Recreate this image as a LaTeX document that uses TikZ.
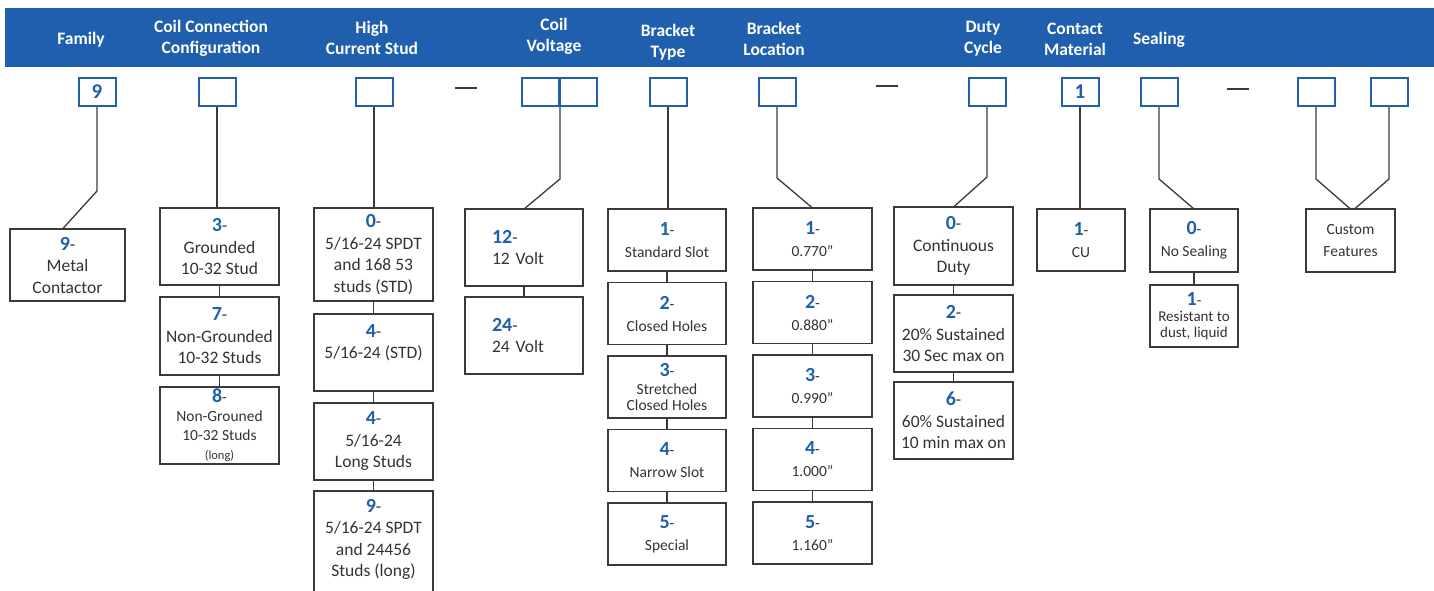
\documentclass[tikz,border=0pt]{standalone}
\usepackage{fontspec}
\setmainfont{Carlito}
\usetikzlibrary{positioning}
\definecolor{hdrblue}{HTML}{1F5FAD}
\definecolor{txtgray}{HTML}{333333}
\definecolor{linegray}{HTML}{3A3A3A}
\newcommand{\optnum}[1]{{\color{hdrblue}\bfseries\fontsize{20}{20}\selectfont#1}-}

\begin{document}
\begin{tikzpicture}[x=1pt, y=-1pt, node distance=11.5pt,
  hdr/.style={text=white, align=center, font=\bfseries\fontsize{17.5}{21}\selectfont},
  code/.style={draw=hdrblue, line width=2pt, minimum width=37pt, minimum height=28pt, inner sep=0pt, text=hdrblue, font=\bfseries\fontsize{21}{21}\selectfont},
  sep/.style={inner sep=0pt, text=linegray},
  opt/.style 2 args={draw=linegray, line width=1.3pt, text=txtgray, align=center, inner sep=0pt, outer sep=0pt, minimum width=#1, minimum height=#2, font=\fontsize{17.5}{21.5}\selectfont},
  sml/.style={font=\fontsize{15.5}{22}\selectfont},
  link/.style={draw=linegray, line width=1.3pt}]
  \useasboundingbox (0,0) rectangle (1434,590);
  \clip (0,0) rectangle (1434,590);
  \fill[hdrblue] (5,8) rectangle (1434,67);

  \node[hdr] (hfam)  at (81,40)   {Family};
  \node[hdr] (hcoil) at (211,38)  {Coil Connection\\Configuration};
  \node[hdr] (hstud) at (372,38)  {High\\Current Stud};
  \node[hdr] (hvolt) at (554,36)  {Coil\\Voltage};
  \node[hdr] (htype) at (668,42)  {Bracket\\Type};
  \node[hdr] (hloc)  at (774,39)  {Bracket\\Location};
  \node[hdr] (hduty) at (983,39)  {Duty\\Cycle};
  \node[hdr] (hcont) at (1075,39) {Contact\\Material};
  \node[hdr] (hseal) at (1159,40) {Sealing};

  \node[code] (c1)  at (97,92)    {9};
  \node[code] (c2)  at (217,92)   {};
  \node[code] (c3)  at (374,92)   {};
  \node[sep]  (d1)  at (466,88)   {\rule{22pt}{2pt}};
  \node[code] (c4a) at (540.5,92) {};
  \node[code] (c4b) at (578,92)   {};
  \node[code] (c5)  at (668,92)   {};
  \node[code] (c6)  at (777,92)   {};
  \node[sep]  (d2)  at (886.5,86) {\rule{22pt}{2pt}};
  \node[code] (c7)  at (987,92)   {};
  \node[code] (c8)  at (1080,92)  {1};
  \node[code] (c9)  at (1159,92)  {};
  \node[sep]  (d3)  at (1237.5,89) {\rule{22pt}{2pt}};
  \node[code] (c10) at (1316,92)  {};
  \node[code] (c11) at (1389,92)  {};

  \node[opt={115pt}{72pt}] (f9) at (67.5,265) {\optnum{9}\\Metal\\Contactor};

  \node[opt={119pt}{77pt}] (g3) at (219.5,246.5) {\optnum{3}\\Grounded\\10-32 Stud};
  \node[opt={119pt}{78pt}, below=12pt of g3] (g7) {\optnum{7}\\Non-Grounded\\10-32 Studs};
  \node[opt={119pt}{77pt}, font=\fontsize{15.5}{19}\selectfont, below=12pt of g7] (g8)
    {\optnum{8}\\Non-Grouned\\10-32 Studs\\{\fontsize{12.5}{14}\selectfont (long)}};

  \node[opt={119pt}{93pt}] (s0) at (373.5,254.5) {\optnum{0}\\5/16-24 SPDT\\and 168 53\\studs (STD)};
  \node[opt={119pt}{77pt}, below=13pt of s0] (s4) {\optnum{4}\\5/16-24 (STD)\\\mbox{}};
  \node[opt={119pt}{77pt}, below=12pt of s4] (s4l) {\optnum{4}\\5/16-24\\Long Studs};
  \node[opt={119pt}{106pt}, text depth=12pt, below=11pt of s4l] (s9) {\optnum{9}\\5/16-24 SPDT\\and 24456\\Studs (long)};

  \node[opt={118pt}{77pt}, text width=64pt, align=left] (v12) at (524,247.5) {\optnum{12}\\12 Volt};
  \node[opt={118pt}{77pt}, text width=64pt, align=left, below=11pt of v12] (v24) {\optnum{24}\\24 Volt};

  \node[opt={118pt}{62pt}, sml] (b1) at (667,240) {\optnum{1}\\Standard Slot};
  \node[opt={118pt}{62pt}, sml, below=of b1] (b2) {\optnum{2}\\Closed Holes};
  \node[opt={118pt}{62pt}, sml, below=of b2] (b3) {\optnum{3}\\[-4pt]Stretched\\[-6pt]Closed Holes};
  \node[opt={118pt}{62pt}, sml, below=of b3] (b4) {\optnum{4}\\Narrow Slot};
  \node[opt={118pt}{62pt}, sml, below=of b4] (b5) {\optnum{5}\\Special};

  \node[opt={119pt}{62pt}, sml] (l1) at (812.5,239) {\optnum{1}\\0.770”};
  \node[opt={119pt}{62pt}, sml, below=of l1] (l2) {\optnum{2}\\0.880”};
  \node[opt={119pt}{62pt}, sml, below=of l2] (l3) {\optnum{3}\\0.990”};
  \node[opt={119pt}{62pt}, sml, below=of l3] (l4) {\optnum{4}\\1.000”};
  \node[opt={119pt}{62pt}, sml, below=of l4] (l5) {\optnum{5}\\1.160”};

  \node[opt={119pt}{78pt}] (u0) at (953.5,246) {\optnum{0}\\Continuous\\Duty};
  \node[opt={119pt}{77pt}, below=10pt of u0] (u2) {\optnum{2}\\20\% Sustained\\30 Sec max on};
  \node[opt={119pt}{77pt}, below=10pt of u2] (u6) {\optnum{6}\\60\% Sustained\\10 min max on};

  \node[opt={88pt}{62pt}, sml] (k1) at (1081,240) {\optnum{1}\\CU};

  \node[opt={88pt}{63pt}, sml] (e0) at (1194,240.5) {\optnum{0}\\No Sealing};
  \node[opt={88pt}{62pt}, font=\fontsize{15}{17}\selectfont, below=13pt of e0] (e1)
    {\optnum{1}\\[-1pt]Resistant to\\[-1pt]dust, liquid};

  \node[opt={89pt}{63pt}, sml] (x1) at (1350.5,240.5) {Custom\\Features};

  \draw[link] (c1.south) -- ++(0,84) -- ([xshift=-5pt]f9.north);
  \draw[link] (c2.south) -- (c2.south |- g3.north);
  \draw[link] (g3) -- (g7) -- (g8);
  \draw[link] (c3.south) -- (c3.south |- s0.north);
  \draw[link] (s0) -- (s4) -- (s4l) -- (s9);
  \draw[link] (c4a.south east) -- ++(0,72) -- (v12.north);
  \draw[link] (v12) -- (v24);
  \draw[link] (c5.south) -- (c5.south |- b1.north);
  \draw[link] (b1) -- (b2) -- (b3) -- (b4) -- (b5);
  \draw[link] (c6.south) -- ++(0,71) -- (l1.north);
  \draw[link] (l1) -- (l2) -- (l3) -- (l4) -- (l5);
  \draw[link] (c7.south) -- ++(0,70) -- (u0.north);
  \draw[link] (u0) -- (u2) -- (u6);
  \draw[link] (c8.south) -- (c8.south |- k1.north);
  \draw[link] (c9.south) -- ++(0,72) -- (e0.north);
  \draw[link] (e0) -- (e1);
  \draw[link] (c10.south) -- ++(0,72) -- (x1.north);
  \draw[link] (c11.south) -- ++(0,72) -- ([xshift=4pt]x1.north);
\end{tikzpicture}
\end{document}
